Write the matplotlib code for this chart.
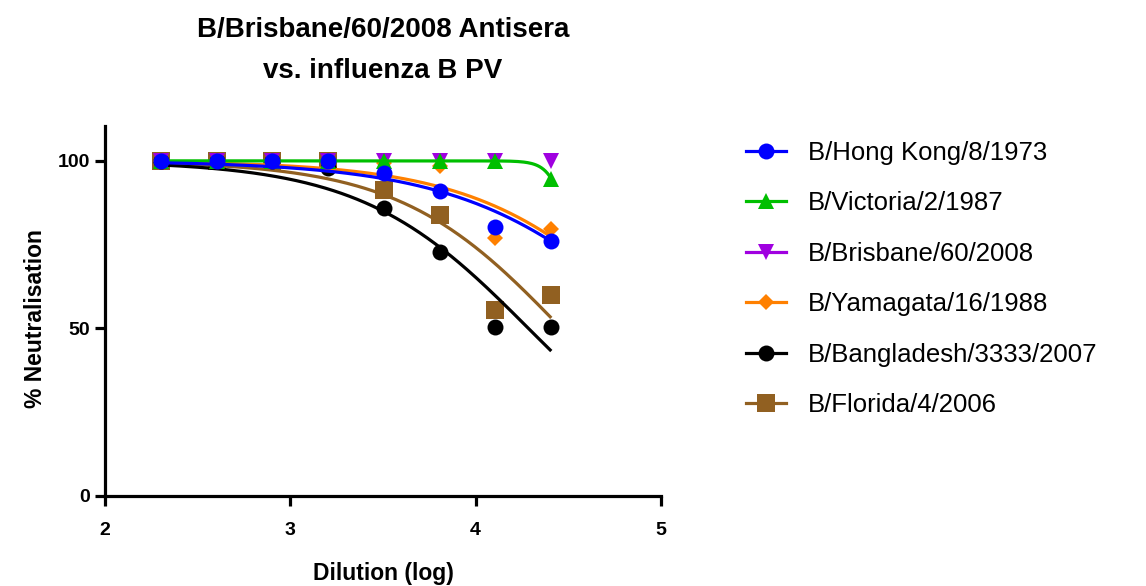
import numpy as np
import matplotlib
matplotlib.use("Agg")
import matplotlib.pyplot as plt
from matplotlib.lines import Line2D

# Serum dilution (log10 of reciprocal dilution, 1:200 ... 1:25600)
log_dilution = [2.301, 2.602, 2.903, 3.204, 3.505, 3.806, 4.107, 4.408]

strains = [
    "B/Hong Kong/8/1973",
    "B/Victoria/2/1987",
    "B/Brisbane/60/2008",
    "B/Yamagata/16/1988",
    "B/Bangladesh/3333/2007",
    "B/Florida/4/2006",
]

# % neutralisation for each pseudovirus
hong_kong = [100, 100, 100, 100, 96.3, 91.0, 80.4, 76.1]
victoria = [100, 100, 100, 100, 100, 100, 100, 94.5]
brisbane = [100, 100, 100, 100, 100, 100, 100, 100]
yamagata = [100, 100, 100, 100, 99.5, 98.5, 76.9, 79.7]
bangladesh = [100, 100, 100, 97.9, 85.9, 72.9, 50.5, 50.5]
florida = [100, 100, 100, 100, 91.3, 83.8, 55.5, 59.9]

# Normalised dose-response fit for each strain: logIC50 and Hill slope
# (no curve for the homologous strain, which stays at 100 %)
log_ic50 = [5.01, 4.564, None, 5.00, 4.285, 4.463]
hill_slope = [0.83, 8.0, None, 0.90, 0.96, 0.989]

series = [hong_kong, victoria, brisbane, yamagata, bangladesh, florida]
colors = ["#0000FF", "#00BF00", "#A000E0", "#FF8000", "#000000", "#916021"]
markers = ["o", "^", "v", "D", "o", "s"]
msizes = [11.5, 11.5, 11.5, 8.0, 11.5, 13.0]

plt.rcParams["font.family"] = ["Liberation Sans", "DejaVu Sans"]

W, H = 1146, 586
fig = plt.figure(figsize=(W / 100, H / 100), dpi=100)
ax = fig.add_axes([105 / W, (H - 496) / H, 556 / W, 370 / H])

xfit = np.linspace(log_dilution[0], log_dilution[-1], 200)
n = len(series)
for i, (vals, c, m, ms, ic, hs) in enumerate(
        zip(series, colors, markers, msizes, log_ic50, hill_slope)):
    z = 3 + 2 * (n - i)
    if ic is not None:
        yfit = 100.0 / (1.0 + 10 ** ((xfit - ic) * hs))
        ax.plot(xfit, yfit, color=c, lw=2.3, zorder=z, solid_capstyle="butt")
    ax.plot(log_dilution, vals, linestyle="none", marker=m, ms=ms,
            color=c, markeredgewidth=0, zorder=z + 1, clip_on=False)

ax.set_xlim(2, 5)
ax.set_ylim(0, 110.4)
ax.set_xticks([2, 3, 4, 5])
ax.set_yticks([0, 50, 100])
for side in ("top", "right"):
    ax.spines[side].set_visible(False)
for side in ("left", "bottom"):
    ax.spines[side].set_linewidth(2.3)
ax.tick_params(axis="both", direction="out", length=7, width=2.3,
               labelsize=14)
ax.tick_params(axis="x", pad=12)
ax.tick_params(axis="y", pad=4)
for lab in ax.get_xticklabels() + ax.get_yticklabels():
    lab.set_fontweight("bold")

ax.set_xlabel("Dilution (log)", fontsize=16.5, fontweight="bold")
ax.xaxis.set_label_coords(0.5, (496 - 562) / 370)
ax.set_ylabel("% Neutralisation", fontsize=16.5, fontweight="bold")
ax.yaxis.set_label_coords((47 - 105) / 556, (496 - 319) / 370)

fig.text(383 / W, (H - 37) / H, "B/Brisbane/60/2008 Antisera",
         ha="center", va="baseline", fontsize=20, fontweight="bold")
fig.text(383 / W, (H - 78) / H, "vs. influenza B PV",
         ha="center", va="baseline", fontsize=20, fontweight="bold")

handles = [Line2D([], [], color=c, lw=2.3, marker=m, ms=ms,
                  markeredgewidth=0)
           for c, m, ms in zip(colors, markers, msizes)]
fig.legend(handles, strains, loc="upper left",
           bbox_to_anchor=(746 / W, (H - 141) / H), frameon=False,
           fontsize=18.5, borderpad=0, borderaxespad=0, handlelength=1.56,
           handletextpad=0.85, labelspacing=1.03)

fig.savefig("out.png", dpi=100)
